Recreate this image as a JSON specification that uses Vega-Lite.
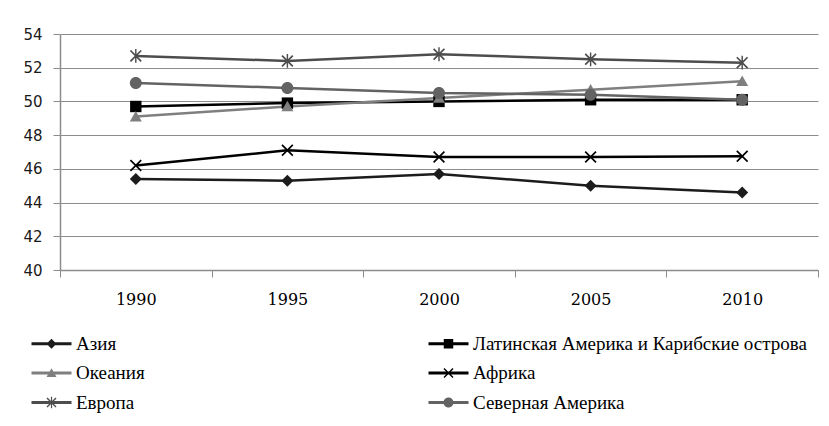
{
  "$schema": "https://vega.github.io/schema/vega-lite/v6.json",
  "width": 758,
  "height": 236,
  "autosize": "none",
  "padding": {"left": 60, "top": 34, "right": 11, "bottom": 156},
  "background": "white",
  "config": {
    "view": {"stroke": null},
    "legend": {"labelFont": "Liberation Serif", "labelFontSize": 19, "labelColor": "black", "labelLimit": 0}
  },
  "resolve": {"legend": {"color": "independent"}},
  "data": {
    "values": [
      {"series": "Азия", "year": "1990", "value": 45.4},
      {"series": "Азия", "year": "1995", "value": 45.3},
      {"series": "Азия", "year": "2000", "value": 45.7},
      {"series": "Азия", "year": "2005", "value": 45.0},
      {"series": "Азия", "year": "2010", "value": 44.6},
      {"series": "Латинская Америка и Карибские острова", "year": "1990", "value": 49.7},
      {"series": "Латинская Америка и Карибские острова", "year": "1995", "value": 49.9},
      {"series": "Латинская Америка и Карибские острова", "year": "2000", "value": 50.0},
      {"series": "Латинская Америка и Карибские острова", "year": "2005", "value": 50.1},
      {"series": "Латинская Америка и Карибские острова", "year": "2010", "value": 50.1},
      {"series": "Океания", "year": "1990", "value": 49.1},
      {"series": "Океания", "year": "1995", "value": 49.7},
      {"series": "Океания", "year": "2000", "value": 50.2},
      {"series": "Океания", "year": "2005", "value": 50.7},
      {"series": "Океания", "year": "2010", "value": 51.2},
      {"series": "Африка", "year": "1990", "value": 46.2},
      {"series": "Африка", "year": "1995", "value": 47.1},
      {"series": "Африка", "year": "2000", "value": 46.7},
      {"series": "Африка", "year": "2005", "value": 46.7},
      {"series": "Африка", "year": "2010", "value": 46.75},
      {"series": "Европа", "year": "1990", "value": 52.7},
      {"series": "Европа", "year": "1995", "value": 52.4},
      {"series": "Европа", "year": "2000", "value": 52.8},
      {"series": "Европа", "year": "2005", "value": 52.5},
      {"series": "Европа", "year": "2010", "value": 52.3},
      {"series": "Северная Америка", "year": "1990", "value": 51.1},
      {"series": "Северная Америка", "year": "1995", "value": 50.8},
      {"series": "Северная Америка", "year": "2000", "value": 50.5},
      {"series": "Северная Америка", "year": "2005", "value": 50.4},
      {"series": "Северная Америка", "year": "2010", "value": 50.1}
    ]
  },
  "encoding": {
    "x": {
      "field": "year", "type": "ordinal",
      "scale": {"paddingInner": 0, "paddingOuter": 0},
      "axis": {
        "title": null, "labelAngle": 0, "labelFont": "DejaVu Serif", "labelFontSize": 16,
        "labelColor": "black", "labelPadding": 14, "tickSize": 7, "tickBand": "extent",
        "tickColor": "#8c8c8c", "domainColor": "#8c8c8c", "domainWidth": 1.5, "grid": false
      }
    },
    "y": {
      "field": "value", "type": "quantitative",
      "scale": {"domain": [40, 54], "nice": false, "zero": false},
      "axis": {
        "title": null, "values": [40, 42, 44, 46, 48, 50, 52, 54],
        "labelFont": "DejaVu Sans", "labelFontSize": 15, "labelColor": "#1a1a1a",
        "labelPadding": 11, "tickSize": 7, "tickColor": "#8c8c8c", "domainColor": "#8c8c8c",
        "domainWidth": 1.5, "grid": true, "gridColor": "#8c8c8c", "gridWidth": 1
      }
    }
  },
  "layer": [
    {
      "mark": {"type": "line", "strokeWidth": 2.5},
      "encoding": {
        "color": {
          "field": "series", "type": "nominal", "legend": null,
          "scale": {
            "domain": ["Азия", "Океания", "Европа", "Латинская Америка и Карибские острова", "Африка", "Северная Америка"],
            "range": ["#1c1c1c", "#7f7f7f", "#4d4d4d", "#000000", "#000000", "#636363"]
          }
        }
      }
    },
    {
      "mark": {"type": "point", "filled": true, "size": 144, "opacity": 1},
      "encoding": {
        "color": {
          "field": "series", "type": "nominal",
          "legend": {
            "orient": "none", "legendX": -18, "legendY": 300, "columns": 2, "title": null,
            "labelFont": "Liberation Serif", "labelFontSize": 19, "labelColor": "black",
            "labelOffset": 15, "symbolSize": 100, "columnPadding": 283, "rowPadding": 9.5,
            "labelLimit": 0, "padding": 0, "symbolOpacity": 1, "symbolStrokeWidth": 0,
            "encoding": {
              "symbols": {
                "shape": {
                  "condition": [
                    {"test": "datum.value === 'Азия'", "value": "M-4,-0.3V0.3H4V-0.3Z M0,-1L-1,0L0,1L1,0Z"},
                    {"test": "datum.value === 'Океания'", "value": "M-4,-0.3V0.3H4V-0.3Z M0,-0.95L-1,0.8L1,0.8Z"},
                    {"test": "datum.value === 'Европа'", "value": "M-4,-0.3V0.3H4V-0.3Z M0.8,1L1,0.8L-0.8,-1L-1,-0.8Z M1,-0.8L0.8,-1L-1,0.8L-0.8,1Z M0.12,1.15L0.12,-1.15L-0.12,-1.15L-0.12,1.15Z"},
                    {"test": "datum.value === 'Латинская Америка и Карибские острова'", "value": "M-4,-0.3V0.3H4V-0.3Z M-0.95,-0.95V0.95H0.95V-0.95Z"},
                    {"test": "datum.value === 'Африка'", "value": "M-4,-0.3V0.3H4V-0.3Z M0.8,1L1,0.8L-0.8,-1L-1,-0.8Z M1,-0.8L0.8,-1L-1,0.8L-0.8,1Z"}
                  ],
                  "value": "M-4,-0.3V0.3H4V-0.3Z M1,0A1,1,0,1,0,-1,0A1,1,0,1,0,1,0Z"
                }
              }
            }
          }
        },
        "shape": {
          "condition": [
            {"test": "datum.series === 'Азия'", "value": "M0,-1L-1,0L0,1L1,0Z"},
            {"test": "datum.series === 'Океания'", "value": "M0,-0.95L-1,0.8L1,0.8Z"},
            {"test": "datum.series === 'Европа'", "value": "M0.8,1L1,0.8L-0.8,-1L-1,-0.8Z M1,-0.8L0.8,-1L-1,0.8L-0.8,1Z M0.12,1.15L0.12,-1.15L-0.12,-1.15L-0.12,1.15Z"},
            {"test": "datum.series === 'Латинская Америка и Карибские острова'", "value": "M-0.95,-0.95V0.95H0.95V-0.95Z"},
            {"test": "datum.series === 'Африка'", "value": "M0.8,1L1,0.8L-0.8,-1L-1,-0.8Z M1,-0.8L0.8,-1L-1,0.8L-0.8,1Z"}
          ],
          "value": "M1,0A1,1,0,1,0,-1,0A1,1,0,1,0,1,0Z"
        }
      }
    }
  ]
}
